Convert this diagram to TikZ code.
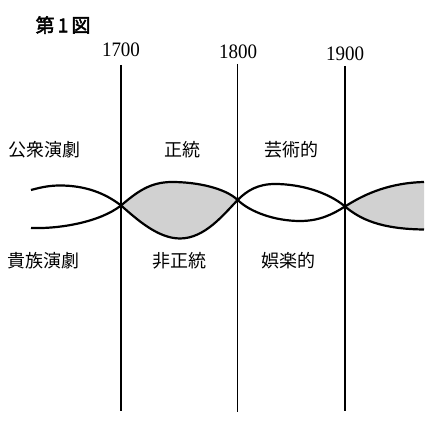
\documentclass[tikz,border=0pt]{standalone}
\usepackage{fontspec}
\setmainfont{Liberation Serif}
\newfontfamily\cjk{Noto Sans CJK JP}
\newfontfamily\cjkb{Noto Sans CJK JP}[FakeBold=2.5]
\begin{document}
\begin{tikzpicture}[x=1pt,y=-1pt,
  vline/.style={line width=1.3pt,black},
  curve/.style={line width=2.2pt,black,line join=round},
  shade/.style={fill=black!18},
  year/.style={inner sep=0pt,font=\fontsize{19}{19}\selectfont,yscale=1.08},
  lab/.style={inner sep=0pt,font=\cjk\fontsize{18}{18}\selectfont},
  ttl/.style={inner sep=0pt,font=\cjkb\fontsize{19}{19}\selectfont}]
\useasboundingbox (0,0) rectangle (432,422);
% title and years
\node[ttl] (title) at (63,25) {第\,1\,図};
\node[year] (y1) at (121,50) {1700};
\node[year] (y2) at (238,52) {1800};
\node[year] (y3) at (345,53.5) {1900};
% vertical lines
\coordinate (t1) at (121,65);  \coordinate (b1) at (121,411);
\coordinate (t2) at (237.7,64); \coordinate (b2) at (237.7,412);
\coordinate (t3) at (345,66);  \coordinate (b3) at (345,411);
% crossings and ends
\coordinate (c1) at (121,205.5);
\coordinate (c2) at (237.7,200);
\coordinate (c3) at (345,206.5);
\coordinate (su) at (31,190);
\coordinate (sl) at (31,228);
\coordinate (eu) at (424,182);
\coordinate (el) at (424,229.5);
% shaded regions
\fill[shade] (c1) .. controls (137,192) and (150,182) .. (172,182)
  .. controls (197,182) and (225,188) .. (c2)
  .. controls (224,214) and (205,238.5) .. (180,238.5)
  .. controls (157,238.5) and (135,217.5) .. (c1) -- cycle;
\fill[shade] (c3) .. controls (360,197) and (385,183) .. (eu) -- (el)
  .. controls (380,229) and (360,219) .. (c3) -- cycle;
% vertical lines
\draw[vline] (t1) -- (b1);
\draw[vline] (t2) -- (b2);
\draw[vline] (t3) -- (b3);
% curves
\draw[curve] (su) .. controls (42,187) and (50,185.5) .. (60,185.5)
  .. controls (85,185.5) and (105,193) .. (c1)
  .. controls (135,217.5) and (157,238.5) .. (180,238.5)
  .. controls (205,238.5) and (224,214) .. (c2)
  .. controls (247,190.5) and (258,184) .. (275,184)
  .. controls (300,184) and (328,192) .. (c3)
  .. controls (360,219) and (380,229) .. (el);
\draw[curve] (sl) .. controls (60,229) and (100,222) .. (c1)
  .. controls (137,192) and (150,182) .. (172,182)
  .. controls (197,182) and (225,188) .. (c2)
  .. controls (250,212) and (275,221) .. (300,221)
  .. controls (320,221) and (333,214) .. (c3)
  .. controls (360,197) and (385,183) .. (eu);
% labels
\node[lab] (pub) at (45,150) {公衆演劇};
\node[lab] (orth) at (182.5,150) {正統};
\node[lab] (art) at (291.5,150) {芸術的};
\node[lab] (ari) at (44,261) {貴族演劇};
\node[lab] (unorth) at (179.5,261) {非正統};
\node[lab] (ent) at (288,261) {娯楽的};
\end{tikzpicture}
\end{document}
